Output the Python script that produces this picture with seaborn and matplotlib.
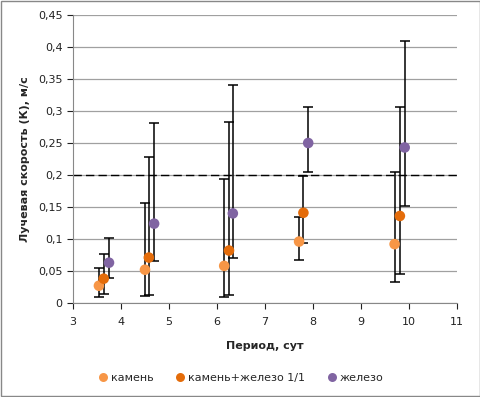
import matplotlib.pyplot as plt
from matplotlib.ticker import FuncFormatter, MultipleLocator
import seaborn as sns
import pandas as pd

# data
series = ["камень", "камень+железо 1/1", "железо"]
colors = ["#F79646", "#E46C0A", "#8064A2"]

period_stone = [3.54, 4.50, 6.15, 7.71, 9.70]
k_stone = [0.027, 0.052, 0.058, 0.096, 0.092]
lo_stone = [0.009, 0.011, 0.009, 0.067, 0.033]
hi_stone = [0.054, 0.157, 0.193, 0.135, 0.204]

period_mix = [3.64, 4.58, 6.25, 7.80, 9.81]
k_mix = [0.038, 0.071, 0.082, 0.141, 0.136]
lo_mix = [0.014, 0.012, 0.012, 0.093, 0.046]
hi_mix = [0.076, 0.228, 0.283, 0.198, 0.306]

period_iron = [3.75, 4.69, 6.33, 7.90, 9.91]
k_iron = [0.063, 0.124, 0.140, 0.250, 0.243]
lo_iron = [0.039, 0.065, 0.070, 0.204, 0.151]
hi_iron = [0.101, 0.281, 0.341, 0.307, 0.410]

threshold = 0.2

frames = []
for name, x, y, lo, hi in [
    (series[0], period_stone, k_stone, lo_stone, hi_stone),
    (series[1], period_mix, k_mix, lo_mix, hi_mix),
    (series[2], period_iron, k_iron, lo_iron, hi_iron),
]:
    frames.append(pd.DataFrame({"period": x, "k": y, "lo": lo, "hi": hi, "type": name}))
df = pd.concat(frames, ignore_index=True)

sns.set_style("white")
plt.rcParams['font.family'] = ['DejaVu Sans']
fig = plt.figure(figsize=(4.81, 3.97), dpi=100)
ax = fig.add_axes([73 / 481, 1 - 303 / 397, 384 / 481, 288 / 397])

ax.yaxis.set_major_locator(MultipleLocator(0.05))
ax.grid(axis="y", color="#A0A0A0", linewidth=0.9)
ax.set_axisbelow(True)

# error bars first so markers sit on top
for name in series:
    d = df[df["type"] == name]
    ax.errorbar(d["period"], d["k"], yerr=[d["k"] - d["lo"], d["hi"] - d["k"]],
                fmt="none", ecolor="black", elinewidth=1.1, capsize=3.5, capthick=1.1, zorder=2)

sns.scatterplot(data=df, x="period", y="k", hue="type", hue_order=series,
                palette=colors, s=58, edgecolor="none", ax=ax, zorder=3)

ax.axhline(threshold, color="black", linestyle=(0, (6, 3)), linewidth=1.0, zorder=1)

ax.set_xlim(3, 11)
ax.set_ylim(0, 0.45)
ax.set_xticks(range(3, 12))
fmt = FuncFormatter(lambda v, p: ("%g" % round(v, 2)).replace(".", ","))
ax.yaxis.set_major_formatter(fmt)
ax.tick_params(axis="both", labelsize=8, colors="#222222", length=4, direction="out",
               bottom=True, left=True, width=0.8)
ax.tick_params(axis="x", pad=6)

for side in ["top", "right"]:
    ax.spines[side].set_visible(False)
for side in ["left", "bottom"]:
    ax.spines[side].set_color("#888888")

ax.set_xlabel("Период, сут", fontsize=8, fontweight="bold", labelpad=10)
ax.set_ylabel("Лучевая скорость (К), м/с", fontsize=8, fontweight="bold", labelpad=6)

handles, labels = ax.get_legend_handles_labels()
ax.legend(handles, labels, loc="center", bbox_to_anchor=(241 / 481, 1 - 378 / 397),
          bbox_transform=fig.transFigure, ncol=3, frameon=False, fontsize=8,
          handlelength=0.8, handletextpad=0.3, columnspacing=2.0, markerscale=0.85)

# chart-area border
fig.patches.append(plt.Rectangle((0.002, 0.002), 0.996, 0.996, transform=fig.transFigure,
                                 fill=False, edgecolor="#888888", linewidth=1))

fig.savefig("out.png", dpi=100)
